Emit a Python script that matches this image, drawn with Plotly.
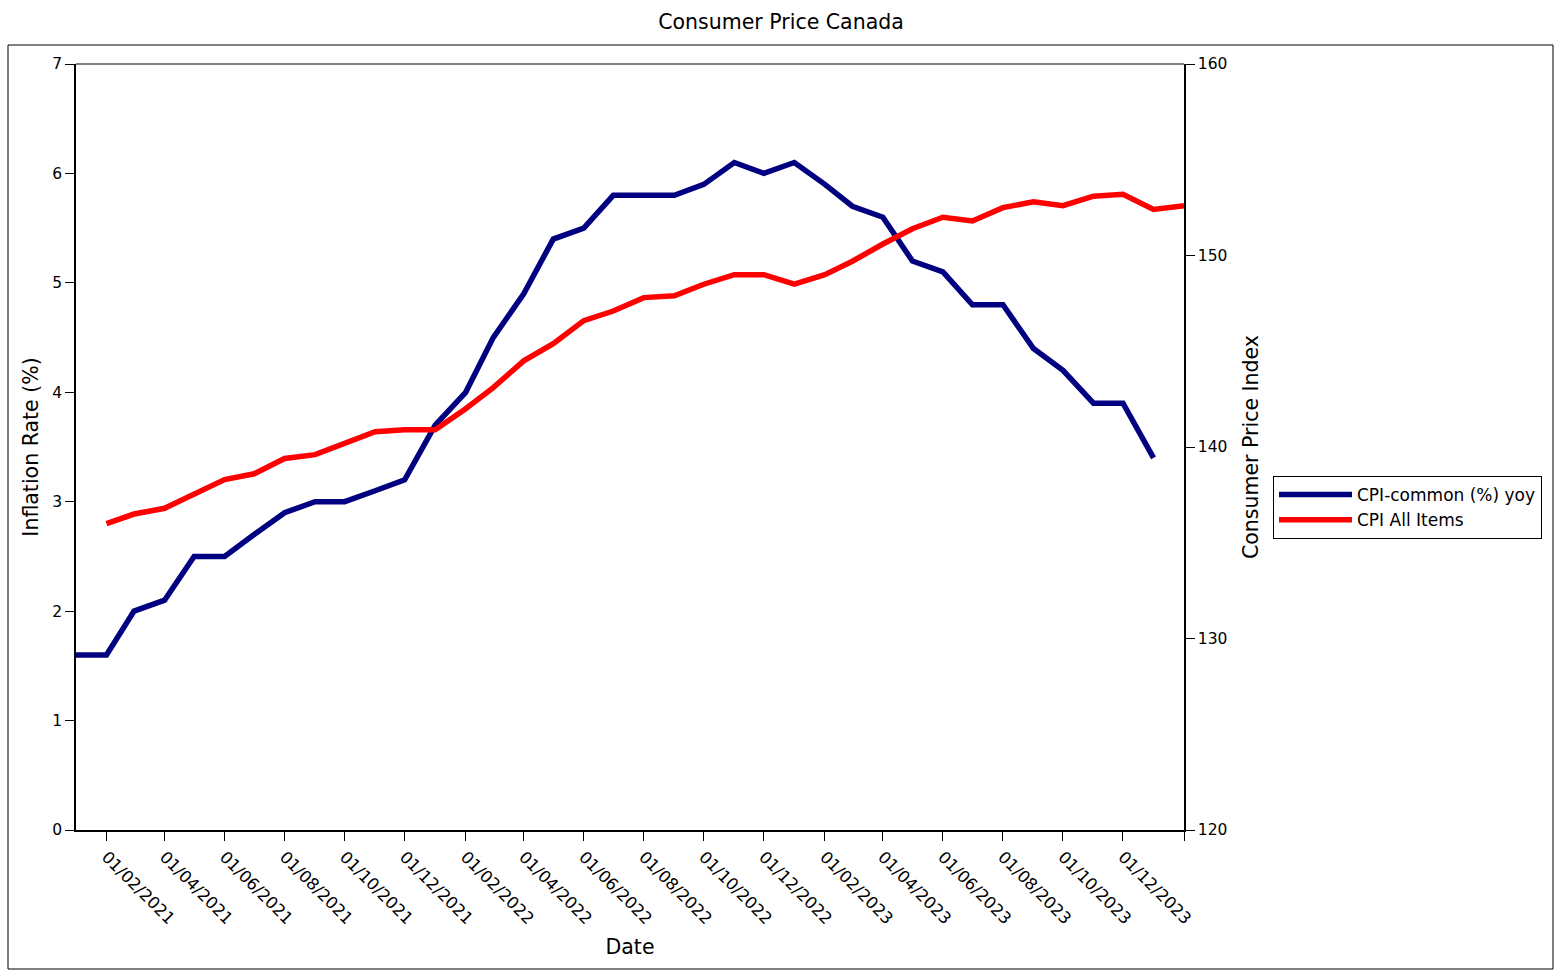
import plotly.graph_objects as go
import pandas as pd

# ---- data ----
core_dates = pd.date_range("2021-01-01", "2024-01-01", freq="MS")
core_yoy = [1.6, 1.6, 2.0, 2.1, 2.5, 2.5, 2.7, 2.9, 3.0, 3.0, 3.1, 3.2,
            3.7, 4.0, 4.5, 4.9, 5.4, 5.5, 5.8, 5.8, 5.8, 5.9, 6.1, 6.0,
            6.1, 5.9, 5.7, 5.6, 5.2, 5.1, 4.8, 4.8, 4.4, 4.2, 3.9, 3.9,
            3.4]

cpi_dates = pd.date_range("2021-02-01", "2024-02-01", freq="MS")
cpi_all = [136.0, 136.5, 136.8, 137.5, 138.3, 138.6, 139.4, 139.6, 140.2, 140.8, 140.9,
           140.9, 142.0, 143.1, 144.5, 145.4, 146.6, 147.1, 147.8, 147.9, 148.5, 149.0, 149.0,
           148.5, 149.0, 149.7, 150.6, 151.4, 152.0, 151.8, 152.5, 152.8, 152.6, 153.1, 153.2,
           152.4, 152.6]

x_tick_vals = ["2021-02-01", "2021-04-01", "2021-06-01", "2021-08-01", "2021-10-01",
               "2021-12-01", "2022-02-01", "2022-04-01", "2022-06-01", "2022-08-01",
               "2022-10-01", "2022-12-01", "2023-02-01", "2023-04-01", "2023-06-01",
               "2023-08-01", "2023-10-01", "2023-12-01", "2024-02-01"]
x_tick_text = ["01/02/2021", "01/04/2021", "01/06/2021", "01/08/2021", "01/10/2021",
               "01/12/2021", "01/02/2022", "01/04/2022", "01/06/2022", "01/08/2022",
               "01/10/2022", "01/12/2022", "01/02/2023", "01/04/2023", "01/06/2023",
               "01/08/2023", "01/10/2023", "01/12/2023", ""]
left_ticks = [0, 1, 2, 3, 4, 5, 6, 7]
right_ticks = [120, 130, 140, 150, 160]

FONT = "DejaVu Sans"

fig = go.Figure()
fig.add_trace(go.Scatter(x=core_dates, y=core_yoy, mode="lines",
                         name="CPI-common (%) yoy",
                         line=dict(color="#000080", width=5.5)))
fig.add_trace(go.Scatter(x=cpi_dates, y=cpi_all, mode="lines",
                         name="CPI All Items", yaxis="y2",
                         line=dict(color="#ff0000", width=5.5)))

fig.update_layout(
    width=1562, height=978,
    margin=dict(l=76, r=378, t=64, b=148),
    paper_bgcolor="white", plot_bgcolor="white",
    font=dict(family=FONT, color="black", size=15),
    title=dict(text="Consumer Price Canada", x=0.5, xanchor="center",
               y=1 - 22 / 978, yanchor="middle", yref="container",
               font=dict(size=20.5, family=FONT, color="black")),
    xaxis=dict(type="date", range=["2021-01-01", "2024-02-01"],
               tickvals=x_tick_vals, ticktext=x_tick_text,
               tickangle=45, ticks="outside", ticklen=9, tickcolor="black",
               showline=True, linecolor="black", linewidth=1.5,
               showgrid=False, zeroline=False,
               tickfont=dict(size=16.5),
               title=dict(text="Date", font=dict(size=20.5), standoff=12)),
    yaxis=dict(range=[0, 7], tickvals=left_ticks, ticks="outside", ticklen=9,
               tickcolor="black", showline=True, linecolor="black", linewidth=1.5,
               showgrid=False, zeroline=False, tickfont=dict(size=15.5),
               title=dict(text="Inflation Rate (%)", font=dict(size=20.5), standoff=8)),
    yaxis2=dict(range=[120, 160], tickvals=right_ticks, overlaying="y", side="right",
                ticks="outside", ticklen=9, tickcolor="black", showline=True,
                linecolor="black", linewidth=1.5, showgrid=False, zeroline=False,
                tickfont=dict(size=15.5),
                title=dict(text="Consumer Price Index", font=dict(size=20.5), standoff=17)),
    legend=dict(x=(1273 - 76) / 1108, y=(830 - 476) / 766, xanchor="left", yanchor="top",
                bordercolor="black", borderwidth=1, bgcolor="white",
                itemwidth=73,
                font=dict(size=17, family=FONT)),
    showlegend=True,
    shapes=[
        dict(type="line", xref="paper", yref="paper", x0=0, x1=1, y0=1, y1=1,
             line=dict(color="#808080", width=2)),
        dict(type="rect", xref="paper", yref="paper",
             x0=(8 - 76) / 1108, x1=(1553 - 76) / 1108,
             y0=(830 - 969) / 766, y1=(830 - 45) / 766,
             line=dict(color="black", width=1), fillcolor="rgba(0,0,0,0)"),
    ],
)

fig.write_html("out.html", config={"displayModeBar": False},
               post_script="document.body.style.margin='0';document.body.style.overflow='hidden';")
